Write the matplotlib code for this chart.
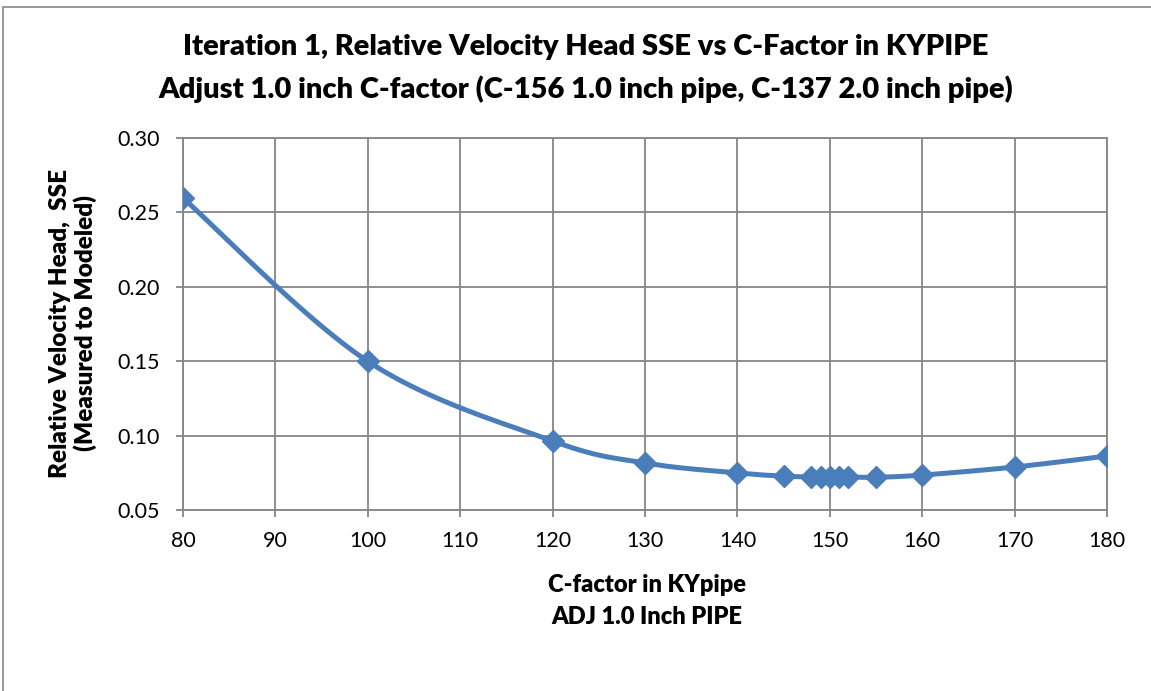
import numpy as np
import matplotlib
matplotlib.use("Agg")
import matplotlib.pyplot as plt
from matplotlib.patches import Rectangle

# 数据：C 系数与相对速度水头 SSE
c_factor = [80, 100, 120, 130, 140, 145, 148, 149, 150, 151, 152, 155, 160, 170, 180]
sse = [0.2597, 0.1499, 0.0964, 0.0816, 0.0749, 0.0728, 0.0722, 0.0722, 0.0721,
       0.0721, 0.0722, 0.0720, 0.0735, 0.0789, 0.0863]
x_ticks = [80, 90, 100, 110, 120, 130, 140, 150, 160, 170, 180]
y_ticks = [0.05, 0.10, 0.15, 0.20, 0.25, 0.30]

title_lines = ["Iteration 1, Relative Velocity Head SSE vs C-Factor in KYPIPE",
               "Adjust 1.0 inch C-factor (C-156 1.0 inch pipe, C-137 2.0 inch pipe)"]
x_label = "C-factor in KYpipe\nADJ 1.0 Inch PIPE"
y_label = "Relative Velocity Head,  SSE\n(Measured to Modeled)"

LINE = "#4A7EBB"
GRID = "#868686"
FONT = "Lato"


def smooth_curve(xs, ys, n=40):
    # 类似 Excel 平滑线的 Catmull-Rom 样条
    xs = np.asarray(xs, float)
    ys = np.asarray(ys, float)
    px = np.concatenate([[xs[0]], xs, [xs[-1]]])
    py = np.concatenate([[ys[0]], ys, [ys[-1]]])
    out_x, out_y = [], []
    for i in range(1, len(px) - 2):
        t = np.linspace(0, 1, n)
        p0, p1, p2, p3 = px[i - 1], px[i], px[i + 1], px[i + 2]
        q0, q1, q2, q3 = py[i - 1], py[i], py[i + 1], py[i + 2]
        b1x, b1y = p1 + (p2 - p0) / 6, q1 + (q2 - q0) / 6
        b2x, b2y = p2 - (p3 - p1) / 6, q2 - (q3 - q1) / 6
        bx = (1 - t) ** 3 * p1 + 3 * (1 - t) ** 2 * t * b1x + 3 * (1 - t) * t ** 2 * b2x + t ** 3 * p2
        by = (1 - t) ** 3 * q1 + 3 * (1 - t) ** 2 * t * b1y + 3 * (1 - t) * t ** 2 * b2y + t ** 3 * q2
        out_x.extend(bx)
        out_y.extend(by)
    return np.array(out_x), np.array(out_y)


fig = plt.figure(figsize=(11.51, 6.91), dpi=100)
fig.patches.append(Rectangle((0.0025, -0.01), 1.2, 1.0026 - 0.0025, transform=fig.transFigure,
                             fill=False, edgecolor=GRID, linewidth=1.2))

ax = fig.add_axes([0.159, 0.2619, 0.8028, 0.5384])
sx, sy = smooth_curve(c_factor, sse)
ax.plot(sx, sy, color=LINE, linewidth=3.6, solid_capstyle="round", zorder=3)
ax.plot(c_factor, sse, linestyle="none", marker="D", markersize=11,
        color=LINE, zorder=4)

ax.set_xlim(80, 180)
ax.set_ylim(0.05, 0.30)
ax.set_xticks(x_ticks)
ax.set_yticks(y_ticks)
ax.set_yticklabels([f"{v:.2f}" for v in y_ticks])
ax.grid(True, color=GRID, linewidth=1.3)
ax.set_axisbelow(True)
for s in ax.spines.values():
    s.set_color(GRID)
    s.set_linewidth(1.3)
ax.tick_params(axis="both", colors=GRID, length=5, width=1.3, labelcolor="black",
               labelsize=15.5)
ax.tick_params(axis="x", pad=10)
ax.tick_params(axis="y", pad=12)
for lab in ax.get_xticklabels() + ax.get_yticklabels():
    lab.set_fontfamily(FONT)

fig.text(0.5085, 1 - 47 / 691, title_lines[0], ha="center", va="center",
         fontsize=21, fontweight="heavy", family=FONT)
fig.text(0.5085, 1 - 89 / 691, title_lines[1], ha="center", va="center",
         fontsize=21, fontweight="heavy", family=FONT)
fig.text(0.562, 1 - 601 / 691, x_label, ha="center", va="center", fontsize=17,
         fontweight="heavy", family=FONT, linespacing=1.5)
fig.text(0.0634, 0.5326, y_label, ha="center", va="center", rotation=90,
         fontsize=17.5, fontweight="heavy", family=FONT, linespacing=1.15)

fig.savefig("out.png", dpi=100)
